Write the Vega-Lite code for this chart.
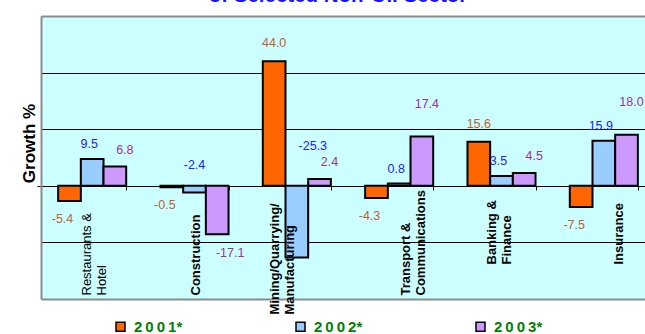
{
  "$schema": "https://vega.github.io/schema/vega-lite/v6.json",
  "width": 604,
  "height": 283,
  "autosize": {"type": "none"},
  "padding": {"left": 41, "top": 16, "right": 0, "bottom": 35},
  "background": "white",
  "title": {
    "text": "of Selected Non-Oil Sector",
    "font": "Liberation Sans",
    "fontSize": 20.5,
    "fontWeight": "bold",
    "color": "#1414FF",
    "anchor": "middle",
    "frame": "group",
    "offset": 9.3,
    "dx": -5
  },
  "config": {
    "view": {"fill": "#CCFFFF", "stroke": null},
    "font": "Liberation Sans"
  },
  "data": {
    "values": [
      {"sector": "Restaurants & Hotel", "year": "2001*", "growth": -5.4},
      {"sector": "Restaurants & Hotel", "year": "2002*", "growth": 9.5},
      {"sector": "Restaurants & Hotel", "year": "2003*", "growth": 6.8},
      {"sector": "Construction", "year": "2001*", "growth": -0.5},
      {"sector": "Construction", "year": "2002*", "growth": -2.4},
      {"sector": "Construction", "year": "2003*", "growth": -17.1},
      {"sector": "Mining/Quarrying/Manufacturing", "year": "2001*", "growth": 44.0},
      {"sector": "Mining/Quarrying/Manufacturing", "year": "2002*", "growth": -25.3},
      {"sector": "Mining/Quarrying/Manufacturing", "year": "2003*", "growth": 2.4},
      {"sector": "Transport & Communications", "year": "2001*", "growth": -4.3},
      {"sector": "Transport & Communications", "year": "2002*", "growth": 0.8},
      {"sector": "Transport & Communications", "year": "2003*", "growth": 17.4},
      {"sector": "Banking & Finance", "year": "2001*", "growth": 15.6},
      {"sector": "Banking & Finance", "year": "2002*", "growth": 3.5},
      {"sector": "Banking & Finance", "year": "2003*", "growth": 4.5},
      {"sector": "Insurance", "year": "2001*", "growth": -7.5},
      {"sector": "Insurance", "year": "2002*", "growth": 15.9},
      {"sector": "Insurance", "year": "2003*", "growth": 18.0}
    ]
  },
  "transform": [
    {"calculate": "replace(format(datum.growth, '.1f'), '\u2212', '-')", "as": "label"}
  ],
  "encoding": {
    "x": {
      "field": "sector",
      "type": "nominal",
      "sort": null,
      "scale": {"range": [0, 614], "paddingInner": 0.335, "paddingOuter": 0.1675},
      "axis": {
        "title": null,
        "orient": "bottom",
        "offset": -113,
        "zindex": 1,
        "domain": false,
        "ticks": true,
        "tickBand": "extent",
        "tickSize": 4,
        "tickColor": "black",
        "tickWidth": 1,
        "labelAngle": -90,
        "labelAlign": "left",
        "labelBaseline": "middle",
        "labelFont": "Liberation Sans",
        "labelFontSize": 13,
        "labelColor": "black",
        "labelLineHeight": 15,
        "labelLimit": 300,
        "labelOverlap": false,
        "labelFlush": false,
        "labelFontWeight": {
          "condition": {"test": "datum.value === 'Restaurants & Hotel'", "value": "normal"},
          "value": "bold"
        },
        "labelPadding": {
          "condition": [
            {"test": "datum.value === 'Banking & Finance' || datum.value === 'Insurance'", "value": 74},
            {"test": "datum.value === 'Mining/Quarrying/Manufacturing'", "value": 124}
          ],
          "value": 105
        },
        "labelOffset": {
          "condition": [
            {"test": "datum.value === 'Restaurants & Hotel'", "value": -6},
            {"test": "datum.value === 'Mining/Quarrying/Manufacturing'", "value": -22},
            {"test": "datum.value === 'Transport & Communications'", "value": 6},
            {"test": "datum.value === 'Banking & Finance'", "value": -10},
            {"test": "datum.value === 'Insurance'", "value": 15}
          ],
          "value": 1
        },
        "labelExpr": "datum.label === 'Mining/Quarrying/Manufacturing' ? ['Mining/Quarrying/', 'Manufacturing'] : split(replace(datum.label, ' & ', ' &|'), '|')"
      }
    },
    "xOffset": {
      "field": "year",
      "type": "nominal",
      "sort": null,
      "scale": {"paddingInner": 0, "paddingOuter": 0}
    },
    "y": {
      "field": "growth",
      "type": "quantitative",
      "scale": {"domain": [-40, 60], "nice": false},
      "axis": {
        "title": "Growth %",
        "titleFont": "Liberation Sans",
        "titleFontSize": 17,
        "titleFontWeight": "bold",
        "titleColor": "black",
        "titleAngle": -90,
        "titleX": -12,
        "titleY": 127,
        "titleAlign": "center",
        "titleBaseline": "middle",
        "labels": false,
        "values": [-40, -20, 0, 20, 40, 60],
        "grid": true,
        "gridColor": {
          "condition": {"test": "datum.value === 60 || datum.value === -40", "value": "#8C8C8C"},
          "value": "black"
        },
        "gridWidth": {
          "condition": {"test": "datum.value === 60 || datum.value === -40", "value": 2},
          "value": 1
        },
        "domain": true,
        "domainColor": "#8C8C8C",
        "domainWidth": 2,
        "ticks": true,
        "tickSize": 4,
        "tickColor": {
          "condition": {"test": "datum.value === 0", "value": "black"},
          "value": "transparent"
        }
      }
    }
  },
  "layer": [
    {
      "mark": {"type": "bar", "stroke": "black", "strokeWidth": 2},
      "encoding": {
        "color": {
          "field": "year",
          "type": "nominal",
          "scale": {"domain": ["2001*", "2002*", "2003*"], "range": ["#FF6600", "#99CCFF", "#CC99FF"]},
          "legend": {
            "title": null,
            "orient": "none",
            "legendX": 72,
            "legendY": 303,
            "direction": "horizontal",
            "symbolType": "square",
            "symbolSize": 81,
            "symbolStrokeColor": "black",
            "symbolStrokeWidth": 1.5,
            "symbolOpacity": 1,
            "labelFont": "Liberation Sans",
            "labelFontSize": 15,
            "labelFontWeight": "bold",
            "labelColor": "#008000",
            "labelOffset": 6,
            "columnPadding": 110,
            "labelExpr": "replace(join(split(datum.label, ''), '\u2009'), '\u2009*', '*')"
          }
        }
      }
    },
    {
      "transform": [{"filter": "datum.year === '2001*' && datum.growth >= 0"}],
      "mark": {"type": "text", "fontSize": 12.5, "color": "#BE5F32", "baseline": "middle", "dy": -18},
      "encoding": {"text": {"field": "label"}}
    },
    {
      "transform": [{"filter": "datum.year === '2001*' && datum.growth < 0"}],
      "mark": {"type": "text", "fontSize": 12.5, "color": "#BE5F32", "baseline": "middle", "dy": 18, "dx": -7},
      "encoding": {"text": {"field": "label"}}
    },
    {
      "transform": [{"filter": "datum.year === '2002*' && datum.growth >= 0"}],
      "mark": {"type": "text", "fontSize": 12.5, "color": "#2020FF", "baseline": "middle", "dy": -15, "dx": -3},
      "encoding": {"text": {"field": "label"}}
    },
    {
      "transform": [{"filter": "datum.year === '2002*' && datum.growth < 0 && datum.growth > -10"}],
      "mark": {"type": "text", "fontSize": 12.5, "color": "#2020FF", "baseline": "middle", "dy": -21},
      "encoding": {"text": {"field": "label"}, "y": {"datum": 0}}
    },
    {
      "transform": [{"filter": "datum.year === '2002*' && datum.growth <= -10"}],
      "mark": {"type": "text", "fontSize": 12.5, "color": "#2020FF", "baseline": "middle", "dy": -40, "dx": 16},
      "encoding": {"text": {"field": "label"}, "y": {"datum": 0}}
    },
    {
      "transform": [{"filter": "datum.year === '2003*' && datum.growth >= 0 && datum.growth < 10"}],
      "mark": {"type": "text", "fontSize": 12.5, "color": "#993399", "baseline": "middle", "dy": -17, "dx": 10},
      "encoding": {"text": {"field": "label"}}
    },
    {
      "transform": [{"filter": "datum.year === '2003*' && datum.growth >= 10"}],
      "mark": {"type": "text", "fontSize": 12.5, "color": "#993399", "baseline": "middle", "dy": -33, "dx": 5},
      "encoding": {"text": {"field": "label"}}
    },
    {
      "transform": [{"filter": "datum.year === '2003*' && datum.growth < 0"}],
      "mark": {"type": "text", "fontSize": 12.5, "color": "#993399", "baseline": "middle", "dy": 19, "dx": 13},
      "encoding": {"text": {"field": "label"}}
    }
  ]
}
